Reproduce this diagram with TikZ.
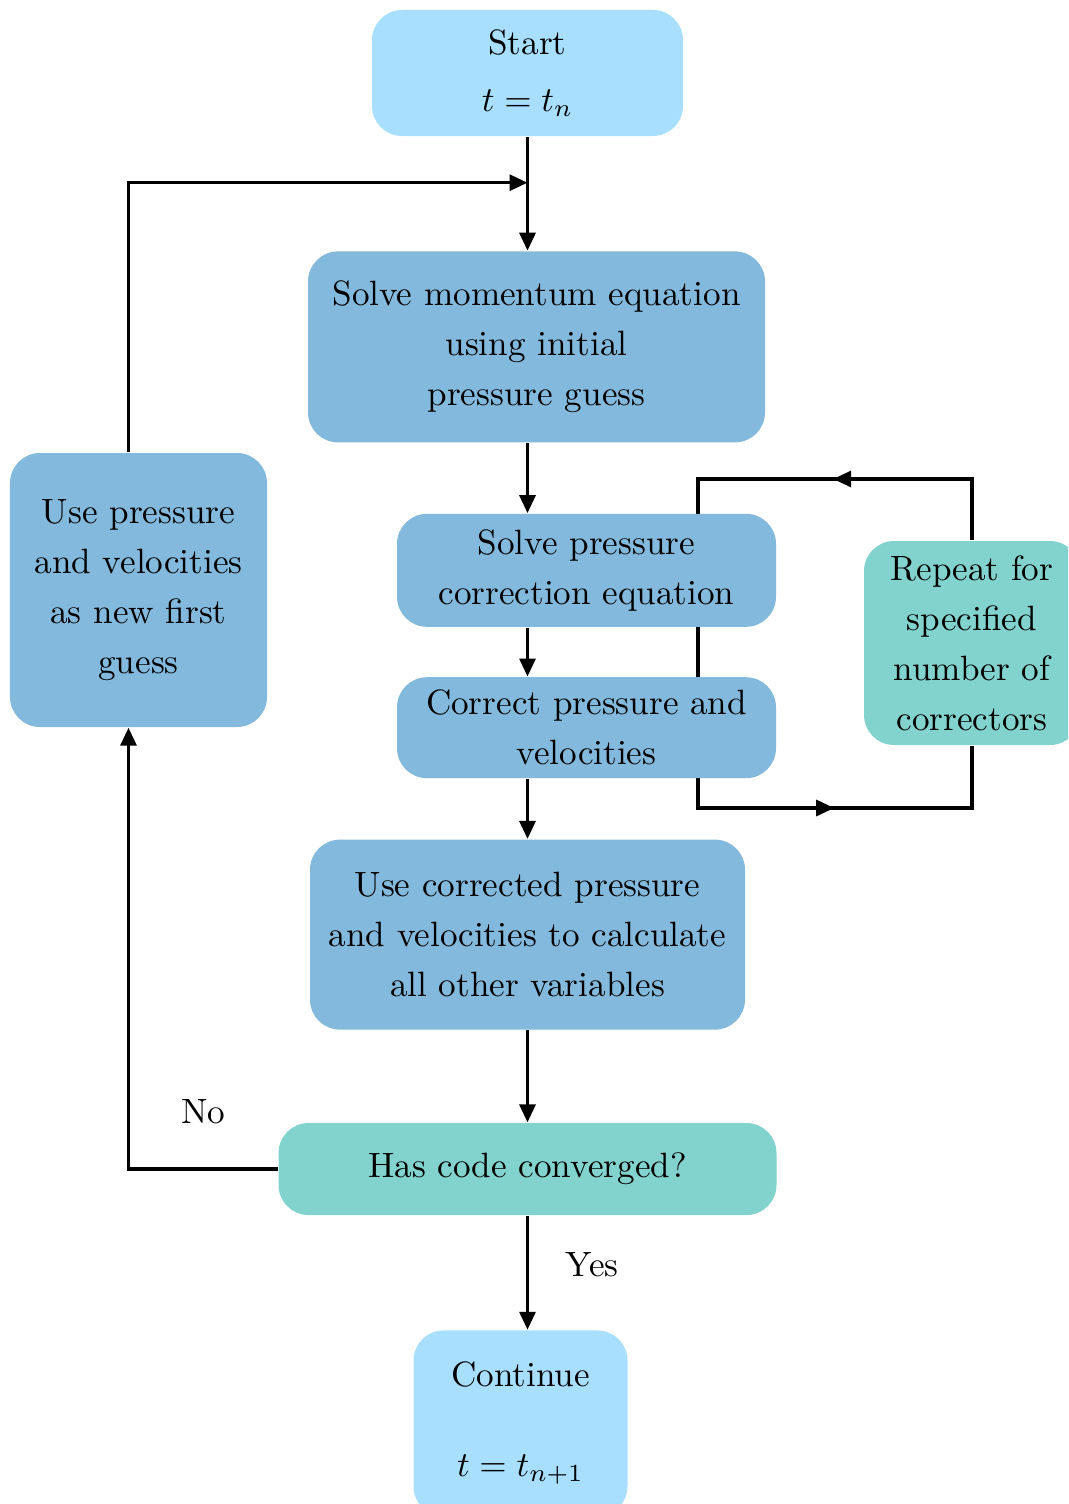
\documentclass[tikz,border=0pt]{standalone}
\usepackage{amsmath}
\usetikzlibrary{arrows.meta, positioning, backgrounds, decorations.markings}

\definecolor{startblue}{HTML}{A9DFFE}
\definecolor{stepblue}{HTML}{83B9DC}
\definecolor{checkteal}{HTML}{82D3CE}

\begin{document}
\begin{tikzpicture}[
    font=\fontsize{10}{14.2}\selectfont,
    base/.style={rectangle, rounded corners=0.3cm, align=center, inner sep=2pt},
    terminal/.style={base, fill=startblue},
    process/.style={base, fill=stepblue},
    decision/.style={base, fill=checkteal},
    arrow/.style={-{Triangle[length=1.8mm, width=1.6mm]}, line width=0.9pt},
    link/.style={line width=0.9pt},
    loopmarks/.style={postaction={decorate}, decoration={markings,
        mark=at position 0.2 with {\arrow{Triangle[length=1.8mm, width=1.6mm]}},
        mark=at position 0.8 with {\arrow{Triangle[length=1.8mm, width=1.6mm]}}}}
]
\useasboundingbox (0,0) rectangle (10.68,-15.04);
\clip (0,0) rectangle (10.68,-15.04);

\node[terminal, minimum width=3.11cm, minimum height=1.26cm] (start) at (5.275,-0.73) {Start\\[0.07cm]$t = t_n$};
\node[process, minimum width=4.57cm, minimum height=1.91cm, below=1.14cm of start, xshift=0.09cm] (momentum) {Solve momentum equation\\using initial\\pressure guess};
\node[process, minimum width=3.79cm, minimum height=1.13cm, below=0.70cm of momentum, xshift=0.5cm] (pcorr) {Solve pressure\\correction equation};
\node[process, minimum width=3.79cm, minimum height=1.01cm, below=0.49cm of pcorr] (correct) {Correct pressure and\\velocities};
\node[process, minimum width=4.35cm, minimum height=1.90cm, below=0.60cm of correct, xshift=-0.59cm] (update) {Use corrected pressure\\and velocities to calculate\\all other variables};
\node[decision, minimum width=4.98cm, minimum height=0.92cm, below=0.92cm of update] (converged) {Has code converged?};
\node[terminal, minimum width=2.14cm, minimum height=1.86cm, below=1.14cm of converged, xshift=-0.07cm] (continue) {Continue\\[0.4cm]$t = t_{n+1}$};

\node[process, minimum width=2.57cm, minimum height=2.74cm] (newguess) at (1.385,-5.9) {Use pressure\\and velocities\\as new first\\guess};
\node[decision, minimum width=2.16cm, minimum height=2.04cm] (correctors) at (9.72,-6.43) {Repeat for\\specified\\number of\\correctors};

\coordinate[below=0.46cm of start.south] (join);
\coordinate (looptop) at (6.98,-4.79);
\coordinate (loopbot) at (6.98,-8.08);

\draw[arrow] (start.south) -- (start.south |- momentum.north);
\draw[arrow] (start.south |- momentum.south) -- (start.south |- pcorr.north);
\draw[arrow] (start.south |- pcorr.south) -- (start.south |- correct.north);
\draw[arrow] (start.south |- correct.south) -- (start.south |- update.north);
\draw[arrow] (update.south) -- (converged.north);
\draw[arrow] (converged.south) -- node[pos=0.43, right=0.25cm] (yes) {Yes} (converged.south |- continue.north);
\draw[arrow] ([xshift=-0.1cm]newguess.north) |- (join);
\draw[arrow] (converged.west) -| node[pos=0.25, above=0.32cm] (no) {No} ([xshift=-0.1cm]newguess.south);

% corrector loop runs behind the two boxes
\begin{scope}[on background layer]
\draw[link, loopmarks] (correctors.north) |- (looptop) -- (loopbot) -| (correctors.south);
\end{scope}

\end{tikzpicture}
\end{document}
